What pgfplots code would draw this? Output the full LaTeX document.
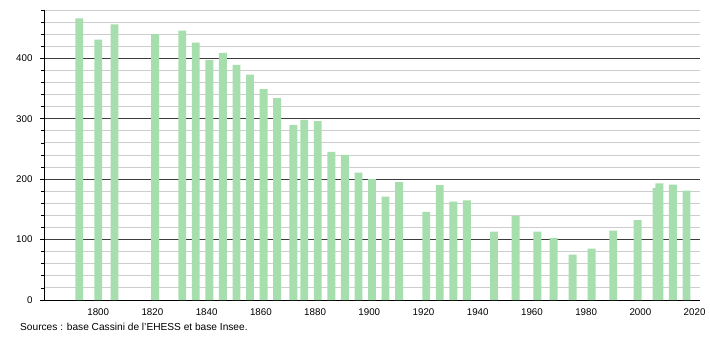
\documentclass[border=0pt]{standalone}
\usepackage{pgfplots}
\pgfplotsset{compat=1.18}
\usepackage{fontspec}
\setmainfont{Liberation Sans}
\definecolor{barg}{RGB}{166,222,174}
\definecolor{minorg}{RGB}{205,205,205}
\definecolor{majorg}{RGB}{60,60,60}
\begin{document}
\begin{tikzpicture}
\path[use as bounding box] (0,0) rectangle (710bp,340bp);
\begin{axis}[
  at={(44bp,40bp)}, anchor=south west,
  scale only axis, width=656bp, height=290bp,
  xmin=1780, xmax=2022, ymin=0, ymax=480,
  axis lines=left, axis line style={-, black, line width=0.9bp},
  xtick={1800,1820,...,2020},
  ytick={0,100,...,400},
  minor ytick={20,40,...,480},
  x tick style={draw=none},
  y tick style={black, line width=0.8bp},
  tick align=outside,
  major tick length=4bp, minor tick length=3bp,
  ymajorgrids, yminorgrids,
  major grid style={majorg, line width=0.9bp},
  minor grid style={minorg, line width=0.9bp},
  tick label style={font=\fontsize{9.8}{11}\selectfont},
  yticklabel style={xshift=-4bp},
  /pgf/number format/assume math mode=true,
  xticklabel={\pgfmathprintnumber[1000 sep={}]{\tick}},
  xticklabel style={yshift=-1bp},
  xtick pos=bottom,
  clip=false,
]
\addplot[ybar, bar width=2.9, fill=barg, draw=none, bar shift=0] coordinates {
(1793,466) (1800,431) (1806,456) (1821,440) (1831,446) (1836,426) (1841,397)
(1846,409) (1851,389) (1856,373) (1861,349) (1866,334) (1872,290) (1876,298)
(1881,296) (1886,245) (1891,240) (1896,211) (1901,200) (1906,171) (1911,195)
(1921,146) (1926,190) (1931,163) (1936,165) (1946,113) (1954,139) (1962,113)
(1968,103) (1975,75) (1982,85) (1990,115) (1999,132) (2006,185) (2007,193)
(2012,191) (2017,181)
};
\end{axis}
\node[anchor=west, inner sep=0pt, font=\fontsize{10.2}{12}\selectfont] at (20bp,13bp) {Sources : base Cassini de l'EHESS et base Insee.};
\end{tikzpicture}
\end{document}
